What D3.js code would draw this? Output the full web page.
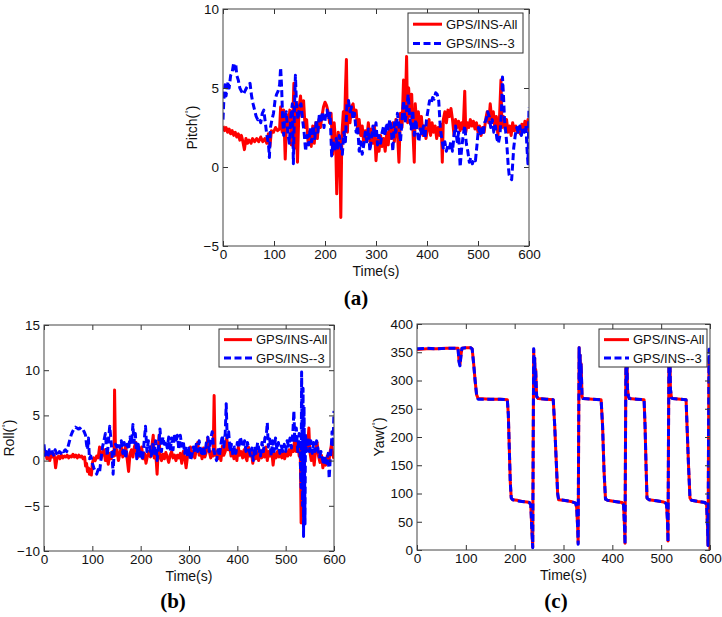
<!DOCTYPE html>
<html><head><meta charset="utf-8">
<script src="https://cdn.jsdelivr.net/npm/d3@7"></script>
<style>body{margin:0;background:#fff} svg{display:block}</style>
</head><body>
<svg id="chart" width="722" height="617"></svg>
<script>
// ---------------- DATA ----------------
const seriesNames = ["GPS/INS-All", "GPS/INS--3"];
const timeTicks = [0,100,200,300,400,500,600];
const pitchTicks = [-5,0,5,10];
const rollTicks = [-10,-5,0,5,10,15];
const yawTicks = [0,50,100,150,200,250,300,350,400];

// Pitch (deg) [time s, value]
const pitchAll = [[0,2.6],[3,2.3],[6,2.5],[9,2.2],[12,2.4],[15,2.1],[18,2.3],[21,2.0],[24,2.2],[27,1.9],[30,2.1],[33,1.7],[36,2.0],[39,1.6],[42,1.1],[45,1.8],[48,1.5],[51,1.7],[55,1.5],[58,1.8],[62,1.6],[66,1.8],[70,1.6],[74,1.9],[78,1.6],[82,1.8],[86,1.5],[89,2.1],[92,1.3],[95,2.3],[99,2.2],[103,2.5],[107,2.3],[111,2.4],[113,3.8],[116,2.2],[119,3.6],[122,0.5],[125,3.3],[128,2.5],[131,3.6],[134,1.4],[137,3.2],[139,5.3],[141,1.2],[143,4.0],[146,0.3],[149,3.7],[152,4.5],[155,3.2],[158,4.2],[161,2.5],[164,3.0],[167,1.5],[170,2.2],[173,1.3],[176,2.6],[179,1.5],[182,2.8],[185,1.8],[188,3.0],[191,2.5],[194,3.2],[197,3.8],[200,4.1],[203,3.9],[206,3.5],[209,2.8],[212,3.4],[215,0.8],[218,2.8],[221,1.5],[223,-1.7],[226,2.2],[229,1.0],[231,-3.2],[233,2.0],[236,3.5],[238,2.0],[240,4.8],[242,6.8],[244,2.2],[246,4.2],[249,2.8],[252,3.8],[255,4.0],[258,3.2],[261,3.6],[264,2.4],[267,3.0],[270,2.0],[273,2.6],[276,1.5],[279,2.3],[282,1.8],[285,2.8],[288,1.6],[291,2.4],[294,1.5],[297,2.6],[300,0.4],[303,1.8],[306,1.0],[309,2.0],[312,1.3],[315,1.8],[318,1.0],[321,2.2],[324,1.4],[327,2.5],[330,1.8],[333,2.8],[336,1.6],[339,3.0],[342,2.2],[345,0.3],[348,3.4],[351,2.5],[354,5.5],[357,3.0],[360,7.0],[362,2.8],[364,5.0],[367,3.2],[370,4.6],[373,1.8],[375,0.3],[377,4.0],[380,2.6],[383,3.5],[386,2.4],[389,3.2],[392,2.0],[395,2.6],[398,1.8],[401,2.4],[404,3.0],[407,2.0],[410,2.8],[413,2.2],[416,2.6],[419,1.8],[422,2.5],[425,2.0],[428,2.7],[430,0.3],[432,3.0],[435,3.5],[438,2.8],[441,3.6],[444,3.2],[447,3.7],[450,3.0],[453,2.0],[456,3.0],[459,2.5],[462,2.9],[465,2.3],[468,2.8],[471,2.4],[474,4.8],[476,2.2],[479,2.8],[482,2.5],[485,3.0],[488,2.6],[491,2.9],[494,2.4],[497,2.8],[500,2.2],[503,2.6],[506,2.0],[509,2.5],[512,2.2],[515,3.0],[518,3.5],[521,2.8],[524,4.0],[527,3.0],[530,3.5],[533,2.4],[536,3.2],[539,2.0],[542,3.0],[545,5.5],[547,2.5],[550,3.2],[553,2.4],[556,3.0],[559,2.2],[562,2.6],[565,2.0],[568,2.8],[571,2.3],[574,2.6],[577,2.2],[580,2.5],[583,2.1],[586,2.7],[589,2.3],[592,2.9],[595,2.4],[598,3.0],[600,2.2]];
const pitch3 = [[0,3.0],[2,4.5],[4,5.2],[6,4.5],[8,5.0],[10,5.4],[12,5.0],[15,5.8],[18,6.0],[21,6.6],[23,6.2],[25,6.5],[27,5.8],[30,5.5],[33,5.0],[36,4.8],[40,4.6],[43,4.8],[46,5.0],[50,5.2],[53,5.3],[56,4.5],[59,4.0],[62,3.6],[65,3.2],[68,3.0],[71,3.1],[74,2.8],[77,3.4],[80,3.6],[83,2.8],[86,2.0],[89,1.5],[91,0.6],[93,2.5],[96,3.0],[99,3.4],[102,4.2],[105,4.6],[108,4.8],[111,5.2],[113,6.3],[115,5.0],[117,3.0],[119,2.0],[121,3.2],[124,3.5],[127,2.2],[130,1.5],[133,3.2],[136,4.0],[138,0.2],[140,3.5],[142,5.8],[144,4.0],[147,3.0],[150,3.8],[153,4.0],[156,3.0],[159,2.2],[162,1.0],[165,2.0],[168,1.4],[171,2.5],[174,1.6],[177,2.6],[180,1.8],[183,3.0],[186,2.2],[189,3.4],[192,2.8],[195,3.5],[198,2.5],[201,3.2],[204,3.6],[207,3.0],[210,3.4],[213,0.7],[216,1.6],[219,1.0],[222,1.8],[225,1.2],[228,2.0],[231,1.4],[234,0.8],[237,2.2],[240,1.6],[243,4.0],[246,4.2],[249,3.5],[252,3.8],[255,3.0],[258,3.4],[261,2.2],[264,2.6],[267,1.0],[270,1.6],[273,0.8],[276,1.4],[279,2.2],[282,1.6],[285,2.4],[288,1.0],[291,1.8],[294,2.6],[297,2.0],[300,2.8],[303,1.4],[306,2.0],[309,1.5],[312,2.2],[315,2.6],[318,2.0],[321,2.8],[324,2.3],[327,3.0],[330,2.4],[333,1.0],[336,2.8],[339,2.2],[342,3.4],[345,2.6],[348,1.6],[351,3.0],[354,4.2],[357,2.8],[360,3.6],[363,4.6],[366,3.2],[369,2.4],[372,3.6],[375,2.0],[378,3.0],[381,2.2],[384,1.6],[387,2.4],[390,2.0],[393,2.6],[396,1.8],[399,3.0],[402,3.6],[405,4.2],[408,4.0],[411,4.4],[414,4.3],[417,4.7],[420,4.6],[423,4.2],[426,2.5],[429,1.8],[432,1.2],[435,1.6],[438,1.0],[441,1.4],[444,1.2],[447,1.6],[450,1.0],[453,2.0],[456,2.6],[459,1.6],[462,2.2],[465,0.0],[468,1.2],[471,2.0],[474,2.6],[477,1.5],[480,1.0],[483,0.3],[486,0.6],[489,0.2],[492,0.5],[495,0.4],[498,1.4],[501,2.5],[504,2.0],[507,2.6],[510,2.0],[513,2.8],[516,3.0],[519,3.5],[522,3.2],[525,2.5],[528,3.0],[531,2.2],[534,2.6],[537,1.8],[540,1.5],[543,2.0],[546,3.5],[548,5.7],[550,4.5],[552,3.0],[555,2.0],[557,1.2],[559,0.2],[561,-0.5],[564,-0.7],[566,-0.8],[568,0.2],[570,1.2],[573,2.0],[576,2.5],[579,2.2],[582,2.6],[585,2.0],[588,2.5],[591,2.2],[594,2.6],[596,1.2],[598,0.2],[600,3.8]];

// Roll (deg)
const rollAll = [[0,0.5],[3,1.0],[6,0.2],[9,0.9],[12,0.0],[15,0.8],[18,0.4],[21,0.7],[24,-0.8],[27,0.3],[30,0.5],[33,0.2],[36,0.6],[39,0.3],[42,0.5],[45,0.4],[48,0.6],[51,0.3],[54,0.5],[57,0.4],[60,0.7],[63,0.4],[66,0.6],[69,0.3],[72,0.6],[75,0.4],[78,0.5],[81,0.2],[84,0.4],[86,-0.6],[88,-0.3],[90,-1.2],[92,-0.8],[94,-1.5],[96,-1.0],[98,-1.6],[100,-0.3],[103,0.3],[106,0.0],[109,0.5],[112,0.3],[115,1.5],[118,0.2],[121,0.8],[124,1.2],[127,0.0],[130,0.6],[133,-0.4],[136,0.8],[139,0.2],[142,1.0],[145,0.5],[146,7.8],[148,0.6],[151,1.2],[154,0.0],[157,0.8],[160,1.5],[163,0.4],[166,1.0],[169,1.6],[172,0.2],[175,-1.2],[178,0.8],[181,1.2],[184,0.4],[187,1.5],[190,2.0],[193,0.3],[196,1.2],[199,0.5],[202,1.5],[205,0.2],[208,0.8],[211,-0.3],[214,0.5],[217,1.0],[220,0.4],[223,1.5],[226,2.8],[228,0.3],[231,1.0],[234,-1.5],[236,0.8],[238,2.8],[240,0.5],[243,0.0],[246,0.7],[249,0.2],[252,0.9],[255,0.4],[258,-0.2],[261,0.6],[264,1.0],[267,0.3],[270,0.6],[273,0.0],[276,0.6],[279,0.3],[282,0.8],[285,-0.3],[288,1.0],[291,0.4],[294,-0.8],[297,0.5],[300,0.8],[303,1.5],[306,0.4],[309,1.0],[312,0.3],[315,1.2],[318,2.0],[321,0.6],[324,1.0],[327,0.2],[330,1.4],[333,0.4],[336,1.0],[339,2.5],[342,1.0],[345,0.3],[348,1.0],[350,0.5],[352,7.2],[354,0.6],[357,1.0],[360,0.2],[363,1.2],[366,0.0],[369,1.6],[372,0.6],[375,1.0],[378,2.5],[381,1.2],[384,1.8],[387,0.5],[390,1.0],[393,0.2],[396,1.2],[399,0.0],[402,1.5],[405,0.6],[408,1.0],[411,0.3],[414,1.2],[417,0.4],[420,0.0],[423,1.5],[426,0.5],[429,1.0],[432,-0.3],[435,0.9],[438,0.2],[441,1.0],[444,0.0],[447,0.8],[450,0.3],[453,1.2],[456,0.4],[459,1.5],[462,0.0],[465,1.0],[468,0.5],[471,1.2],[474,-0.5],[477,0.8],[480,0.3],[483,1.0],[486,0.4],[489,0.8],[492,0.3],[495,0.9],[498,0.2],[501,1.0],[504,0.5],[507,1.2],[510,0.6],[513,1.5],[516,1.0],[519,2.5],[522,1.0],[525,2.0],[528,0.5],[530,2.0],[532,-6.9],[534,1.5],[535,-6.0],[537,2.5],[539,1.0],[542,2.0],[545,1.2],[548,3.6],[550,1.0],[553,0.0],[556,1.0],[559,-0.5],[562,1.2],[565,2.0],[568,0.5],[571,-0.2],[574,0.6],[577,-0.8],[580,0.2],[583,-0.5],[586,0.5],[589,-0.3],[592,1.0],[595,1.8],[598,0.5],[600,0.2]];
const roll3 = [[0,1.8],[2,0.6],[5,1.0],[8,0.4],[11,1.2],[14,0.8],[17,1.0],[20,0.6],[23,1.2],[26,0.8],[29,0.5],[32,1.0],[35,0.8],[38,1.2],[41,1.0],[44,1.2],[47,1.0],[50,1.6],[53,2.2],[56,2.8],[59,3.2],[62,3.5],[65,3.7],[68,3.6],[71,3.5],[74,3.6],[77,3.4],[80,3.5],[83,3.2],[86,2.8],[88,1.8],[90,1.2],[92,2.5],[94,0.2],[97,0.5],[100,-0.3],[103,-0.8],[106,-1.2],[109,-1.5],[112,-1.0],[115,-1.3],[118,0.2],[121,1.5],[124,2.2],[127,3.0],[129,1.5],[131,0.5],[133,2.0],[136,3.8],[139,2.0],[141,0.5],[143,-1.5],[145,1.0],[148,1.8],[151,1.5],[154,2.0],[157,1.4],[160,2.2],[163,0.8],[166,2.0],[169,0.2],[172,1.8],[175,1.2],[178,2.6],[181,1.8],[184,4.0],[186,2.0],[189,3.0],[192,0.2],[195,1.8],[198,0.5],[201,1.2],[204,0.0],[207,2.0],[210,3.8],[213,1.0],[216,2.2],[219,1.4],[222,0.5],[225,1.8],[228,0.8],[231,2.2],[234,0.0],[237,1.5],[240,3.5],[243,1.0],[246,2.6],[249,1.8],[252,2.2],[255,1.4],[258,2.6],[261,1.0],[264,2.5],[267,1.2],[270,3.0],[273,2.0],[276,2.8],[279,1.2],[282,2.8],[285,1.6],[288,2.2],[291,0.8],[294,1.6],[297,0.4],[300,1.4],[303,0.0],[306,0.6],[309,1.5],[312,0.8],[315,1.8],[318,1.0],[321,2.2],[324,1.2],[327,0.5],[330,1.6],[333,0.8],[336,2.0],[339,2.6],[342,1.0],[345,2.4],[348,3.2],[351,1.2],[354,0.6],[357,0.0],[360,1.2],[363,0.5],[366,1.8],[369,2.8],[372,1.5],[375,3.0],[377,6.3],[379,2.5],[382,3.2],[385,1.0],[388,1.8],[391,0.5],[394,1.5],[397,0.8],[400,2.0],[403,1.4],[406,2.6],[409,2.0],[412,1.5],[415,2.2],[418,1.0],[421,2.0],[424,1.2],[427,0.6],[430,1.4],[433,0.0],[436,1.6],[439,0.8],[442,2.0],[445,1.2],[448,0.5],[451,2.0],[454,1.0],[457,2.5],[460,2.8],[462,4.2],[464,1.5],[467,2.4],[470,0.5],[473,2.2],[476,1.0],[479,2.5],[482,1.2],[485,2.0],[488,0.8],[491,1.6],[494,1.0],[497,1.8],[500,1.0],[503,2.2],[506,1.6],[509,2.5],[512,1.4],[515,3.2],[517,5.5],[519,2.0],[522,3.6],[525,1.0],[528,3.0],[530,0.5],[532,-3.0],[533,9.8],[535,-5.0],[536,8.0],[537,-8.4],[538,6.0],[540,-7.0],[541,3.0],[543,1.0],[546,2.6],[549,1.0],[552,2.2],[555,0.8],[558,2.0],[561,1.0],[564,2.2],[567,1.2],[570,0.4],[573,1.0],[576,0.2],[579,-0.5],[582,0.5],[585,-0.3],[588,0.8],[590,-2.0],[592,0.0],[594,1.2],[596,3.2],[598,1.5],[600,5.5]];

// Yaw (deg)
const yawAll = [[0,355],[20,356],[40,356],[60,357],[80,357],[84,357],[86,335],[88,328],[90,345],[92,357],[100,358],[110,358],[113,356],[116,330],[119,300],[122,275],[125,268],[150,267],[170,267],[185,266],[187,240],[189,180],[191,120],[193,92],[196,89],[205,88],[215,86],[225,85],[230,84],[233,80],[235,40],[237,5],[238,200],[239,355],[240,300],[241,340],[242,290],[243,320],[245,272],[248,268],[265,267],[279,266],[282,220],[285,160],[288,100],[290,89],[300,88],[315,86],[325,83],[327,75],[329,40],[330,12],[331,200],[332,358],[333,300],[334,345],[335,290],[336,330],[338,272],[340,268],[360,267],[377,266],[380,220],[383,140],[386,90],[390,88],[405,86],[420,84],[423,80],[425,40],[426,12],[427,200],[428,355],[429,300],[430,340],[431,285],[433,272],[435,268],[450,267],[465,266],[467,220],[469,150],[471,92],[475,89],[490,87],[505,85],[511,82],[513,50],[514,16],[515,200],[516,350],[517,300],[518,335],[519,285],[521,270],[523,268],[540,267],[551,266],[553,220],[556,150],[559,92],[562,88],[575,86],[590,84],[593,80],[595,40],[596,8],[597,200],[598,340],[599,200],[600,0]];
const yaw3 = [[0,356],[20,357],[40,356],[60,357],[80,357],[84,357],[86,333],[88,326],[90,343],[92,357],[100,358],[110,358],[113,356],[116,330],[119,300],[122,275],[125,267],[150,267],[170,267],[185,266],[187,240],[189,180],[191,120],[193,92],[196,89],[205,87],[215,86],[225,85],[230,84],[233,80],[235,40],[237,4],[238,200],[239,356],[240,300],[241,340],[242,290],[243,320],[245,272],[248,268],[265,267],[279,266],[282,220],[285,160],[288,100],[290,89],[300,88],[315,86],[325,83],[327,75],[329,40],[330,10],[331,200],[332,358],[333,300],[334,345],[335,290],[336,330],[338,272],[340,268],[360,267],[377,266],[380,220],[383,140],[386,90],[390,88],[405,86],[420,84],[423,80],[425,40],[426,10],[427,200],[428,355],[429,300],[430,340],[431,285],[433,272],[435,268],[450,267],[465,266],[467,220],[469,150],[471,92],[475,89],[490,87],[505,85],[511,82],[513,50],[514,14],[515,200],[516,350],[517,300],[518,335],[519,285],[521,270],[523,268],[540,267],[551,266],[553,220],[556,150],[559,92],[562,88],[575,86],[590,84],[593,80],[595,40],[596,8],[597,200],[598,355],[599,300],[600,358]];

// ---------------- DRAWING ----------------
const svg = d3.select("#chart");
const FONT = "'Liberation Sans', Arial, Helvetica, sans-serif";
const RED = "#ff0000", BLUE = "#0000ff";

function drawPanel(cfg) {
  const x = d3.scaleLinear().domain([0, 600]).range([cfg.x0, cfg.x1]);
  const y = d3.scaleLinear().domain(cfg.yDomain).range([cfg.y1, cfg.y0]);
  const g = svg.append("g");
  const clipId = "clip-" + cfg.id;
  svg.append("defs").append("clipPath").attr("id", clipId)
    .append("rect").attr("x", cfg.x0).attr("y", cfg.y0)
    .attr("width", cfg.x1 - cfg.x0).attr("height", cfg.y1 - cfg.y0);

  const line = d3.line().x(d => x(d[0])).y(d => y(d[1]));
  const lg = g.append("g").attr("clip-path", `url(#${clipId})`);
  lg.append("path").datum(cfg.all).attr("d", line)
    .attr("fill", "none").attr("stroke", RED).attr("stroke-width", 3)
    .attr("stroke-linejoin", "round");
  lg.append("path").datum(cfg.three).attr("d", line)
    .attr("fill", "none").attr("stroke", BLUE).attr("stroke-width", 3)
    .attr("stroke-dasharray", "7,3.5").attr("stroke-linejoin", "round");

  // axes: ticks inward on all four sides
  const styleAxis = sel => {
    sel.select(".domain").remove();
    sel.selectAll(".tick line").attr("stroke", "#333");
    sel.selectAll(".tick text").attr("fill", "#111")
      .style("font-family", FONT).style("font-size", "13.5px");
  };
  g.append("g").attr("transform", `translate(0,${cfg.y1})`)
    .call(d3.axisBottom(x).tickValues(timeTicks).tickSizeInner(-5).tickSizeOuter(0).tickPadding(3))
    .call(styleAxis);
  g.append("g").attr("transform", `translate(0,${cfg.y0})`)
    .call(d3.axisTop(x).tickValues(timeTicks).tickSizeInner(-5).tickSizeOuter(0).tickFormat(""))
    .call(styleAxis);
  g.append("g").attr("transform", `translate(${cfg.x0},0)`)
    .call(d3.axisLeft(y).tickValues(cfg.yTicks).tickSizeInner(-5).tickSizeOuter(0).tickPadding(4))
    .call(styleAxis);
  g.append("g").attr("transform", `translate(${cfg.x1},0)`)
    .call(d3.axisRight(y).tickValues(cfg.yTicks).tickSizeInner(-5).tickSizeOuter(0).tickFormat(""))
    .call(styleAxis);

  g.append("rect").attr("x", cfg.x0).attr("y", cfg.y0)
    .attr("width", cfg.x1 - cfg.x0).attr("height", cfg.y1 - cfg.y0)
    .attr("fill", "none").attr("stroke", "#444").attr("stroke-width", 1);

  // axis titles
  g.append("text").attr("x", (cfg.x0 + cfg.x1) / 2).attr("y", cfg.y1 + 30)
    .attr("text-anchor", "middle").style("font-family", FONT).style("font-size", "14px")
    .attr("fill", "#111").text("Time(s)");
  const yl = g.append("text")
    .attr("transform", `translate(${cfg.ylabelX},${(cfg.y0 + cfg.y1) / 2}) rotate(-90)`)
    .attr("text-anchor", "middle").style("font-family", FONT).style("font-size", "14px")
    .attr("fill", "#111");
  yl.append("tspan").text(cfg.ylabel + "(");
  yl.append("tspan").attr("dy", -5).style("font-size", "9px").text("°");
  yl.append("tspan").attr("dy", 5).text(")");

  // legend
  const L = cfg.legend;
  const leg = g.append("g");
  leg.append("rect").attr("x", L.x).attr("y", L.y).attr("width", L.w).attr("height", L.h)
    .attr("fill", "#fff").attr("stroke", "#333").attr("stroke-width", 1);
  const rowY = [L.y + L.h * 0.28, L.y + L.h * 0.76];
  [RED, BLUE].forEach((c, i) => {
    leg.append("line").attr("x1", L.x + 5).attr("x2", L.x + 5 + L.lw)
      .attr("y1", rowY[i]).attr("y2", rowY[i])
      .attr("stroke", c).attr("stroke-width", 3)
      .attr("stroke-dasharray", i === 1 ? "7,3.5" : null);
    leg.append("text").attr("x", L.x + 9 + L.lw).attr("y", rowY[i]).attr("dy", "0.36em")
      .style("font-family", FONT).style("font-size", "13px").attr("fill", "#111")
      .text(seriesNames[i]);
  });

  // caption
  svg.append("text").attr("x", cfg.caption.x).attr("y", cfg.caption.y)
    .attr("text-anchor", "middle")
    .style("font-family", "'Liberation Serif', 'Times New Roman', serif")
    .style("font-size", "21px").style("font-weight", "bold").attr("fill", "#000")
    .text(cfg.caption.text);
}

drawPanel({id: "a", x0: 223, x1: 529, y0: 9, y1: 246, yDomain: [-5, 10], yTicks: pitchTicks,
  ylabel: "Pitch", ylabelX: 197, all: pitchAll, three: pitch3,
  legend: {x: 408, y: 13, w: 115, h: 40, lw: 29}, caption: {text: "(a)", x: 356, y: 305}});
drawPanel({id: "b", x0: 44, x1: 334, y0: 325, y1: 551, yDomain: [-10, 15], yTicks: rollTicks,
  ylabel: "Roll", ylabelX: 14, all: rollAll, three: roll3,
  legend: {x: 219, y: 329, w: 111, h: 38, lw: 28}, caption: {text: "(b)", x: 173, y: 608}});
drawPanel({id: "c", x0: 417, x1: 710, y0: 324, y1: 550, yDomain: [0, 400], yTicks: yawTicks,
  ylabel: "Yaw", ylabelX: 384, all: yawAll, three: yaw3,
  legend: {x: 599, y: 329, w: 108, h: 38, lw: 25}, caption: {text: "(c)", x: 556, y: 608}});
</script>
</body></html>
